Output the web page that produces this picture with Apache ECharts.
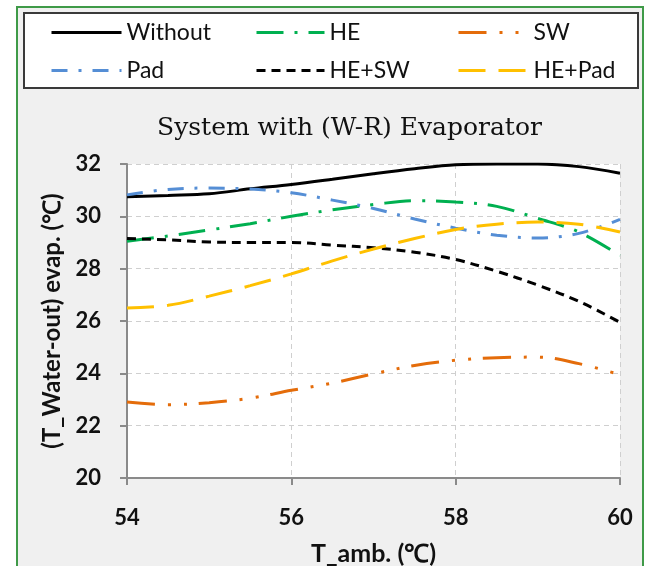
<!DOCTYPE html>
<html>
<head>
<meta charset="utf-8">
<script src="https://cdn.jsdelivr.net/npm/echarts@6/dist/echarts.min.js"></script>
<style>
html,body{margin:0;padding:0;background:#fff;}
#c{width:649px;height:566px;}
</style>
</head>
<body>
<div id="c"></div>
<script>
// ---- data ----
const tAmb = [54, 54.5, 55, 55.5, 56, 56.5, 57, 57.5, 58, 58.5, 59, 59.5, 60];
const without = [30.75, 30.8, 30.86, 31.05, 31.22, 31.42, 31.63, 31.82, 31.97, 32.0, 32.0, 31.9, 31.65];
const he      = [29.05, 29.25, 29.48, 29.72, 30.0, 30.25, 30.45, 30.6, 30.55, 30.38, 29.92, 29.4, 28.5];
const sw      = [22.9, 22.8, 22.88, 23.05, 23.35, 23.63, 23.98, 24.3, 24.5, 24.6, 24.62, 24.37, 23.95];
const pad     = [30.82, 31.03, 31.08, 31.04, 30.9, 30.62, 30.3, 29.9, 29.55, 29.28, 29.17, 29.35, 29.88];
const heSw    = [29.15, 29.1, 29.02, 29.0, 29.0, 28.9, 28.8, 28.63, 28.35, 27.9, 27.37, 26.75, 25.95];
const hePad   = [26.5, 26.6, 26.95, 27.35, 27.8, 28.3, 28.75, 29.15, 29.5, 29.7, 29.78, 29.7, 29.4];
const xTicks = [54, 56, 58, 60];
const yTicks = [20, 22, 24, 26, 28, 30, 32];
const seriesNames = ['Without', 'HE', 'SW', 'Pad', 'HE+SW', 'HE+Pad'];

const pairs = arr => tAmb.map((x, i) => [x, arr[i]]);

const chart = echarts.init(document.getElementById('c'), null, {renderer: 'canvas'});

const legendCommon = {
  orient: 'vertical', top: 21, itemWidth: 70, itemHeight: 14, itemGap: 15, padding: 0,
  textStyle: {fontFamily: 'Lato', fontSize: 23, color: '#111', lineHeight: 18},
  itemStyle: {opacity: 0, borderWidth: 0},
  lineStyle: {width: 3}
};

function mk(name, data, color, type) {
  return {
    name, type: 'line', data: pairs(data), smooth: 0.35, symbol: 'none', showSymbol: false,
    lineStyle: {color, width: 3, type},
    itemStyle: {color}
  };
}

chart.setOption({
  animation: false,
  graphic: [
    {type: 'rect', z: -100, shape: {x: 17, y: 7, width: 626, height: 600},
     style: {fill: '#f0f0f0', stroke: '#3f9a48', lineWidth: 2}},
    {type: 'rect', z: 1, shape: {x: 24, y: 13, width: 614, height: 75},
     style: {fill: '#ffffff', stroke: '#3a3a3a', lineWidth: 2}}
  ],
  title: {
    text: 'System with (W-R) Evaporator', left: 152, top: 111,
    textStyle: {fontFamily: 'DejaVu Serif', fontWeight: 'normal', fontSize: 25, color: '#111'}
  },
  legend: [
    Object.assign({}, legendCommon, {left: 50, data: [seriesNames[0], seriesNames[3]]}),
    Object.assign({}, legendCommon, {left: 255, itemWidth: 68, data: [seriesNames[1], seriesNames[4]]}),
    Object.assign({}, legendCommon, {left: 457, data: [seriesNames[2], seriesNames[5]]})
  ],
  grid: {left: 127, right: 29, top: 164, bottom: 88, show: true, backgroundColor: '#ffffff', borderWidth: 0,
         containLabel: false, outerBoundsMode: 'none'},
  xAxis: {
    type: 'value', min: xTicks[0], max: xTicks[xTicks.length - 1], interval: 2,
    name: 'T_amb. (℃)', nameLocation: 'middle', nameGap: 63,
    nameTextStyle: {fontFamily: 'Lato', fontWeight: 'bold', fontSize: 25, color: '#111'},
    axisLine: {lineStyle: {color: '#8a8a8a', width: 2}},
    axisTick: {show: true, length: 7, lineStyle: {color: '#8a8a8a', width: 2}},
    axisLabel: {margin: 29, fontFamily: 'Lato', fontWeight: 'bold', fontSize: 22, color: '#111'},
    splitLine: {show: true, lineStyle: {color: '#cfcfcf', type: [5, 4], width: 1}}
  },
  yAxis: {
    type: 'value', min: yTicks[0], max: yTicks[yTicks.length - 1], interval: 2,
    name: '(T_Water-out) evap. (℃)', nameLocation: 'middle', nameGap: 63,
    nameTextStyle: {fontFamily: 'Lato', fontWeight: 'bold', fontSize: 24, color: '#111'},
    axisLine: {show: true, lineStyle: {color: '#8a8a8a', width: 2}},
    axisTick: {show: true, length: 7, lineStyle: {color: '#8a8a8a', width: 2}},
    axisLabel: {margin: 26, fontFamily: 'Lato', fontWeight: 'bold', fontSize: 22, color: '#111'},
    splitLine: {show: true, lineStyle: {color: '#cfcfcf', type: [5, 4], width: 1}}
  },
  series: [
    mk(seriesNames[0], without, '#000000', 'solid'),
    mk(seriesNames[1], he, '#00b050', [27, 11, 3, 11]),
    mk(seriesNames[2], sw, '#e46c0a', [28, 13, 3, 13, 3, 12]),
    mk(seriesNames[3], pad, '#558ed5', [16, 11, 3, 11]),
    mk(seriesNames[4], heSw, '#000000', [9, 6]),
    mk(seriesNames[5], hePad, '#ffc000', [27, 13])
  ]
});
</script>
</body>
</html>
